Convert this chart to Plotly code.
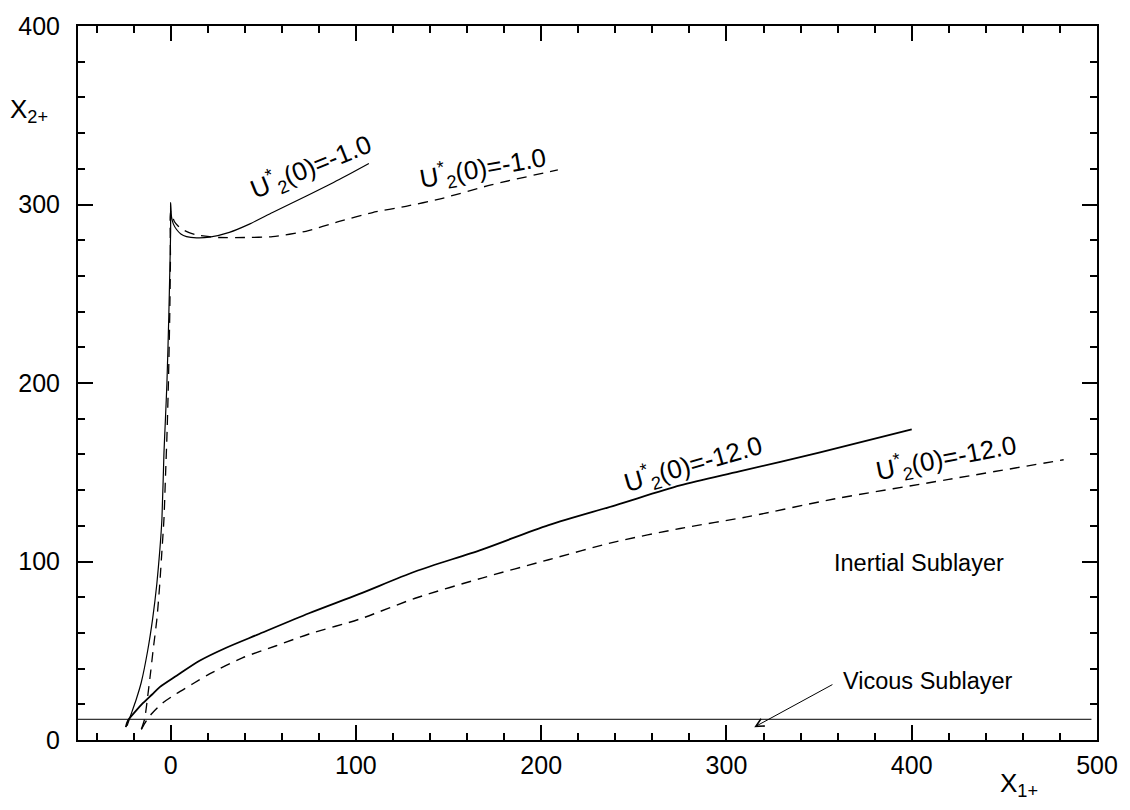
import plotly.graph_objects as go

# ---- data ----
s1_x = [-23.5, -21.5, -18.5, -15.8, -12.4, -9.7, -7.5, -5.9, -4.7, -3.6, -2.8, -2.0, -1.0, -0.4, 0.0, 0.0,
        0.5, 1.5, 3.2, 5.5, 8.6, 14.0, 21.0, 31.7, 42.5, 55.0, 73.0, 91.0, 107.0]
s1_y = [8.0, 14.0, 23.0, 32.5, 50.0, 68.0, 87.0, 105.6, 124.0, 161.0, 180.0, 200.0, 237.0, 265.0, 285.0, 301.0,
        293.0, 289.0, 286.0, 283.5, 282.0, 281.3, 281.7, 284.4, 289.0, 295.5, 304.6, 314.0, 323.0]

d1_x = [-15.8, -14.0, -12.2, -10.8, -9.5, -7.4, -5.9, -4.7, -3.6, -2.7, -2.0, -1.2, -0.5, -0.1, 0.0,
        2.0, 4.0, 6.5, 10.0, 14.0, 21.0, 26.0, 40.0, 55.0, 73.0, 91.0, 109.0, 127.0, 145.0, 173.0, 209.0]
d1_y = [6.0, 12.0, 26.0, 38.0, 50.0, 68.0, 87.0, 106.0, 124.0, 150.0, 170.0, 200.0, 237.0, 270.0, 296.0,
        290.5, 288.0, 286.0, 284.2, 283.0, 282.0, 281.5, 281.5, 282.0, 285.0, 290.5, 295.5, 299.0, 303.0, 311.0, 319.4]

s12_x = [-24.2, -23.0, -19.0, -15.0, -10.0, -5.9, 3.2, 15.6, 30.0, 47.8, 74.7, 101.6, 132.0, 168.0,
         204.0, 240.0, 275.0, 307.0, 350.0, 400.0]
s12_y = [7.2, 11.0, 16.0, 20.6, 25.5, 29.6, 36.0, 44.4, 51.7, 59.4, 71.0, 81.7, 94.4, 106.7,
         120.4, 131.5, 142.6, 150.5, 161.0, 174.0]

d12_x = [-15.8, -13.0, -10.0, -4.0, 3.2, 12.0, 21.0, 38.7, 57.0, 74.7, 101.6, 132.0, 168.0, 204.0,
         240.0, 275.0, 311.0, 358.0, 420.0, 482.0]
d12_y = [6.0, 11.0, 15.0, 21.0, 26.0, 31.5, 37.0, 46.0, 52.8, 59.4, 67.6, 79.4, 90.7, 101.0,
         111.0, 118.5, 125.0, 135.0, 146.0, 157.0]

visc_x = [-50, 497]
visc_y = [11.6, 11.6]

x_ticks = [0, 100, 200, 300, 400, 500]
y_ticks = [0, 100, 200, 300, 400]

FONT = "Arial, Liberation Sans, sans-serif"

fig = go.Figure()
fig.add_trace(go.Scatter(x=visc_x, y=visc_y, mode="lines", line=dict(color="black", width=1)))
fig.add_trace(go.Scatter(x=s1_x, y=s1_y, mode="lines",
                         line=dict(color="black", width=1.2, shape="spline", smoothing=0.6)))
fig.add_trace(go.Scatter(x=d1_x, y=d1_y, mode="lines",
                         line=dict(color="black", width=1.3, dash="10px,7px", shape="spline", smoothing=0.6)))
fig.add_trace(go.Scatter(x=s12_x, y=s12_y, mode="lines",
                         line=dict(color="black", width=1.8, shape="spline", smoothing=0.8)))
fig.add_trace(go.Scatter(x=d12_x, y=d12_y, mode="lines",
                         line=dict(color="black", width=1.4, dash="10px,7px", shape="spline", smoothing=0.8)))

lab = "U<sup>*</sup><sub>2</sub>(0)=%s"
ann = [
    dict(x=75.5, y=321, text=lab % "-1.0", textangle=-22),
    dict(x=168.8, y=320.5, text=lab % "-1.0", textangle=-10),
    dict(x=282.0, y=154.5, text=lab % "-12.0", textangle=-16),
    dict(x=418.5, y=158, text=lab % "-12.0", textangle=-11),
]
annotations = []
for a in ann:
    annotations.append(dict(x=a["x"], y=a["y"], xref="x", yref="y", text=a["text"], textangle=a["textangle"],
                            showarrow=False, font=dict(family=FONT, size=26, color="black")))
annotations.append(dict(x=404, y=99, xref="x", yref="y", text="Inertial Sublayer", showarrow=False,
                        font=dict(family=FONT, size=23.5, color="black")))
annotations.append(dict(x=362, y=32.8, xref="x", yref="y", text="Vicous Sublayer", showarrow=False,
                        xanchor="left", font=dict(family=FONT, size=23.5, color="black")))
annotations.append(dict(x=315, y=7.2, xref="x", yref="y", ax=358, ay=31.5, axref="x", ayref="y", text="",
                        showarrow=True, arrowhead=5, arrowsize=1.6, arrowwidth=1, arrowcolor="black"))
annotations.append(dict(x=-0.069, y=0.882, xref="paper", yref="paper", text="X<sub>2+</sub>", showarrow=False,
                        xanchor="left", yanchor="middle", font=dict(family=FONT, size=26, color="black")))
annotations.append(dict(x=0.903, y=-0.063, xref="paper", yref="paper", text="X<sub>1+</sub>", showarrow=False,
                        xanchor="left", yanchor="middle", font=dict(family=FONT, size=26, color="black")))

axis_common = dict(showgrid=False, zeroline=False, showline=True, linecolor="black", linewidth=2,
                   mirror="ticks", ticks="inside", ticklen=15, tickwidth=1.5, tickcolor="black",
                   tickfont=dict(family=FONT, size=25, color="black"))

fig.update_layout(
    width=1130, height=810,
    margin=dict(l=78, r=29, t=20, b=70),
    paper_bgcolor="white", plot_bgcolor="white",
    showlegend=False,
    annotations=annotations,
    xaxis=dict(range=[-50, 500], tickvals=x_ticks, ticklabelstandoff=2,
               minor=dict(dtick=20, tick0=0, ticks="inside", ticklen=7, tickwidth=1.5, tickcolor="black"),
               **axis_common),
    yaxis=dict(range=[0, 400], tickvals=y_ticks, ticklabelstandoff=11,
               minor=dict(dtick=20, tick0=0, ticks="inside", ticklen=7, tickwidth=1.5, tickcolor="black"),
               **axis_common),
)

fig.write_html("out.html")
